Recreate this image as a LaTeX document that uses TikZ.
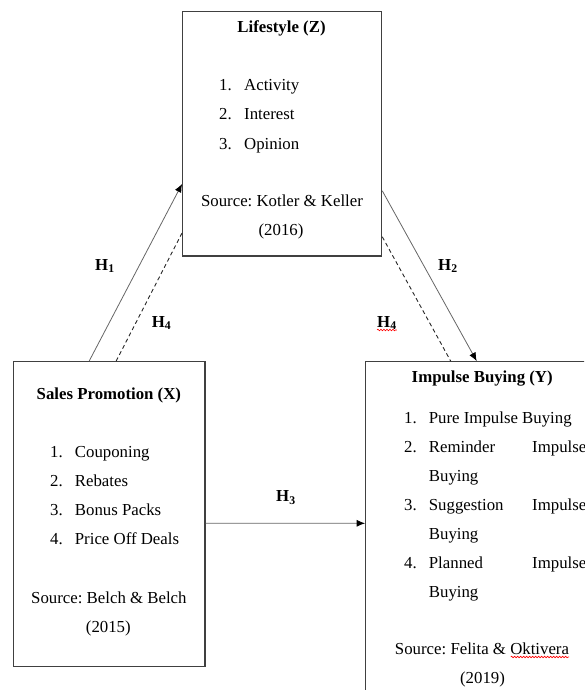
\documentclass[tikz,border=0pt]{standalone}
\usepackage{fontspec}
\setmainfont{Liberation Serif}
\usetikzlibrary{arrows.meta,decorations.pathmorphing}
\frenchspacing

\newcommand{\hyp}[1]{\textbf{H}\textsubscript{\textbf{#1}}}

\tikzset{
  box/.style={draw=black!75, line width=1.2pt, inner sep=0pt},
  txt/.style={inner sep=0pt, anchor=base west, font=\fontsize{16.8}{20}\selectfont},
  src/.style={txt, anchor=base},
  ttl/.style={txt, anchor=base, font=\fontsize{16.8}{20}\selectfont\bfseries},
  link/.style={draw=black!60, line width=0.8pt},
  arr/.style={link, -{Latex[length=8.5pt,width=7pt,color=black]}},
  dsh/.style={draw=black!85, line width=0.9pt, dash pattern=on 4pt off 3pt},
  spell/.style={draw=red, line width=0.6pt, decorate,
    decoration={snake, amplitude=0.8pt, segment length=3pt}},
}

\begin{document}
\begin{tikzpicture}[x=1pt, y=-1pt]
    \useasboundingbox (0,0) rectangle (584,690);
    \clip (0,0) rectangle (584,690);

    % boxes
    \node[box, minimum width=199pt, minimum height=244.3pt] (Z) at (282.2,133.85) {};
    \node[box, minimum width=191.7pt, minimum height=305pt] (X) at (109.15,514.2) {};
    \node[box, minimum width=300pt, minimum height=400pt] (Y) at (515.7,561.7) {};

    % Lifestyle (Z)
    \node[ttl] (zt) at (281.5,33) {Lifestyle (Z)};
    \foreach \t [count=\i] in {Activity,Interest,Opinion}{
        \node[txt] (zn\i) at (219,{61.5+29.2*\i}) {\i.};
        \node[txt] (zi\i) at (244,{61.5+29.2*\i}) {\t};
    }
    \node[src] (zs) at (282,206) {Source: Kotler \& Keller};
    \node[src] (zy) at (281,235) {(2016)};

    % Sales Promotion (X)
    \node[ttl] (xt) at (108.9,399) {Sales Promotion (X)};
    \foreach \t [count=\i] in {Couponing,Rebates,Bonus Packs,Price Off Deals}{
        \node[txt] (xn\i) at (50,{428.7+28.9*\i}) {\i.};
        \node[txt] (xi\i) at (74.7,{428.7+28.9*\i}) {\t};
    }
    \node[src] (xs) at (108.9,603.3) {Source: Belch \& Belch};
    \node[src] (xy) at (108.3,632) {(2015)};

    % Impulse Buying (Y)
    \node[ttl] (yt) at (482.2,382) {Impulse Buying (Y)};
    \node[txt] (yn1) at (404,423) {1.};
    \node[txt] (yi1) at (428.7,423) {Pure Impulse Buying};
    \foreach \t [count=\i from 2] in {Reminder,Suggestion,Planned}{
        \node[txt] (yn\i) at (404,{336+58*\i}) {\i.};
        \node[txt] (yi\i) at (428.7,{336+58*\i}) {\t};
        \node[txt] (yp\i) at (532,{336+58*\i}) {Impulse};
        \node[txt] (yb\i) at (428.7,{365+58*\i}) {Buying};
    }
    \node[src] (ys) at (482,654) {Source: Felita \& Oktivera};
    \node[src] (yy) at (482.5,683) {(2019)};

    % hypotheses
    \draw[arr] ([xshift=-20pt]X.north) -- ([yshift=-50pt]Z.west);
    \draw[dsh] ([xshift=7pt]X.north) -- ([yshift=-99pt]Z.west);
    \draw[arr] ([yshift=-57pt]Z.east) -- ([xshift=-39pt]Y.north);
    \draw[dsh] ([yshift=-103pt]Z.east) -- ([xshift=-65pt]Y.north);
    \draw[arr] ([yshift=-9pt]X.east) -- ([yshift=38.4pt]Y.west);

    \node[txt] (h1) at (95,270) {\hyp{1}};
    \node[txt] (h2) at (438,270) {\hyp{2}};
    \node[txt] (h3) at (276,501.7) {\hyp{3}};
    \node[txt] (h4a) at (151.7,327.3) {\hyp{4}};
    \node[txt] (h4b) at (377,327) {\hyp{4}};

    % spell-check marks
    \draw[spell] ([yshift=-3pt]h4b.base west) -- ([yshift=-3pt]h4b.base east);
    \draw[spell] (510.7,657) -- ([yshift=-3pt]ys.base east);
\end{tikzpicture}
\end{document}
